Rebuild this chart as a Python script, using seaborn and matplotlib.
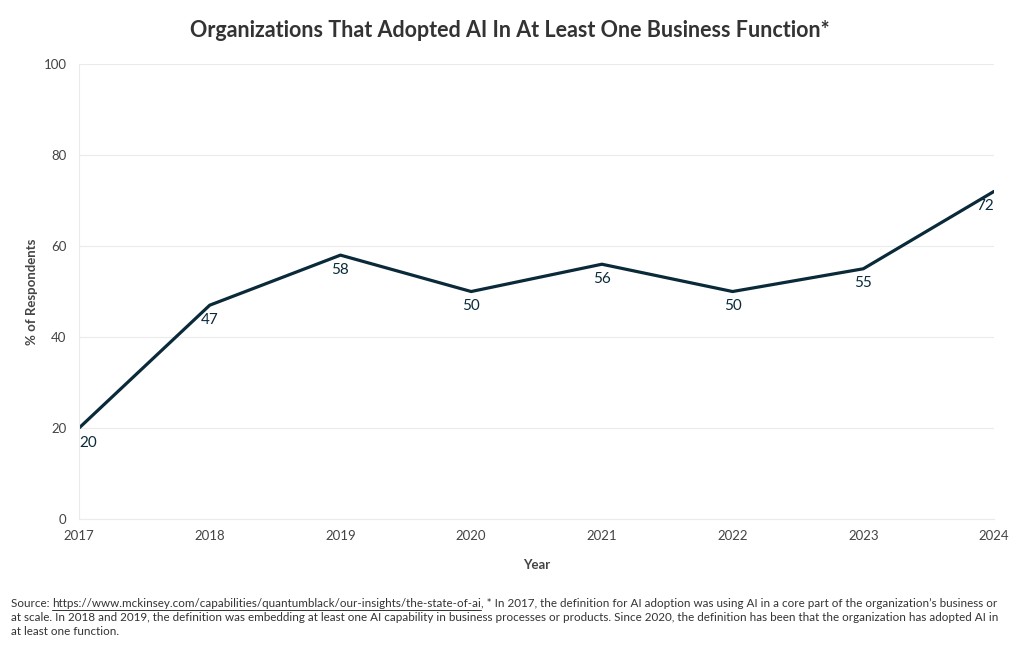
import pandas as pd
import seaborn as sns
import matplotlib.pyplot as plt

YEARS = [2017, 2018, 2019, 2020, 2021, 2022, 2023, 2024]
ADOPTION = [20, 47, 58, 50, 56, 50, 55, 72]
Y_TICKS = [0, 20, 40, 60, 80, 100]

TITLE = "Organizations That Adopted AI In At Least One Business Function*"
URL = "https://www.mckinsey.com/capabilities/quantumblack/our-insights/the-state-of-ai"
NOTE_1 = (", * In 2017, the definition for AI adoption was using AI in a core part "
          "of the organization\u2019s business or")
NOTE_2 = ("at scale. In 2018 and 2019, the definition was embedding at least one AI "
          "capability in business processes or products. Since 2020, the definition "
          "has been that the organization has adopted AI in")
NOTE_3 = "at least one function."

LINE_COLOR = "#0a2a3a"
TEXT_COLOR = "#333333"
GRID_COLOR = "#ebebeb"

data = pd.DataFrame({"year": YEARS, "pct": ADOPTION})

sns.set_theme(style="white")
plt.rcParams["font.family"] = ["Lato", "DejaVu Sans"]

fig = plt.figure(figsize=(10.2, 6.5), dpi=100)
ax = fig.add_axes([0.0775, 0.2015, 0.897, 0.70])

sns.lineplot(data=data, x="year", y="pct", color=LINE_COLOR, linewidth=2.3, ax=ax)

# value labels under each point, kept inside the plot at both ends
for i, (x, y) in enumerate(zip(YEARS, ADOPTION)):
    if i == 0:
        ha = "left"
    elif i == len(YEARS) - 1:
        ha = "right"
    else:
        ha = "center"
    ax.annotate(str(y), (x, y), xytext=(0, -5.5), textcoords="offset points",
                ha=ha, va="top", fontsize=11, color=LINE_COLOR)

ax.set_xlim(2017, 2024)
ax.set_ylim(0, 100)
ax.set_xticks(YEARS)
ax.set_yticks(Y_TICKS)
ax.tick_params(axis="both", labelsize=9.5, colors="#444444", length=0)
ax.tick_params(axis="x", pad=8)
ax.tick_params(axis="y", pad=9)
ax.grid(axis="y", color=GRID_COLOR, linewidth=0.8)
for side in ["top", "right"]:
    ax.spines[side].set_visible(False)
for side in ["left", "bottom"]:
    ax.spines[side].set_color(GRID_COLOR)
    ax.spines[side].set_linewidth(0.8)

ax.set_xlabel("Year", fontsize=9.5, fontweight="bold", color="#444444", labelpad=12)
ax.set_ylabel("% of Respondents", fontsize=9.5, fontweight="bold", color="#444444", labelpad=4)

fig.text(0.5, 0.953, TITLE, ha="center", va="center", fontsize=15.5,
         fontweight="bold", color=TEXT_COLOR)

# caption with underlined link
cap_kw = dict(fontsize=8.4, color=TEXT_COLOR, va="baseline")
fig.canvas.draw()
renderer = fig.canvas.get_renderer()
y1 = 1 - 607 / 650
t0 = fig.text(11 / 1020, y1, "Source: ", **cap_kw)
bb0 = t0.get_window_extent(renderer)
t1 = fig.text(bb0.x1 / 1020, y1, URL, **cap_kw)
bb1 = t1.get_window_extent(renderer)
fig.add_artist(plt.Line2D([bb1.x0 / 1020, bb1.x1 / 1020],
                          [y1 - 2.5 / 650, y1 - 2.5 / 650],
                          color=TEXT_COLOR, linewidth=0.7))
fig.text(bb1.x1 / 1020, y1, NOTE_1, **cap_kw)
fig.text(11 / 1020, 1 - 621 / 650, NOTE_2, **cap_kw)
fig.text(11 / 1020, 1 - 635 / 650, NOTE_3, **cap_kw)

fig.savefig("out.png", dpi=100)
